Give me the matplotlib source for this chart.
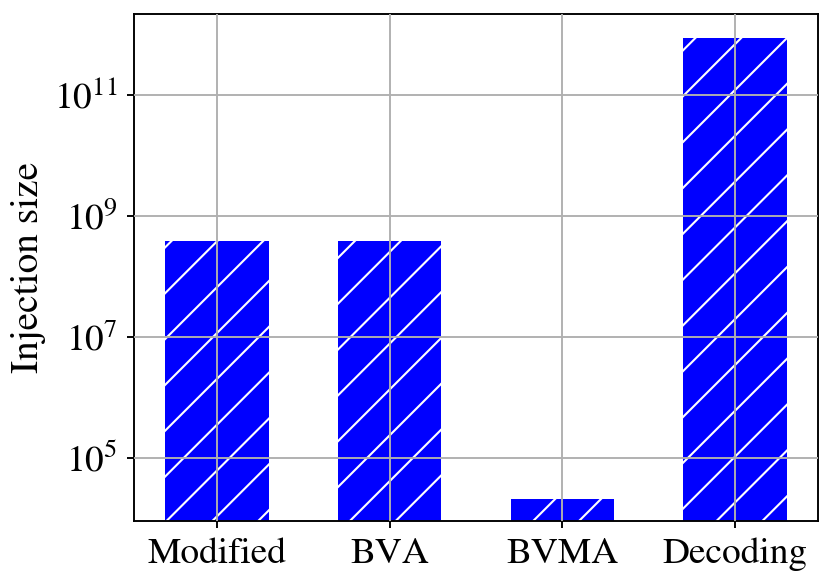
import matplotlib
matplotlib.use("Agg")
import matplotlib.pyplot as plt
import numpy as np

# values (log scale)
methods = ["Modified", "BVA", "BVMA", "Decoding"]
injection_size = [3.9e8, 3.9e8, 2.1e4, 8.7e11]

DPI = 275
plt.rcParams['font.family'] = ['STIXGeneral', 'Liberation Serif', 'DejaVu Serif']
plt.rcParams['mathtext.fontset'] = 'stix'
plt.rcParams['hatch.color'] = 'white'
plt.rcParams['hatch.linewidth'] = 0.55

fig, ax = plt.subplots(figsize=(830 / DPI, 583 / DPI), dpi=DPI)
fig.subplots_adjust(left=134 / 830, right=818 / 830, top=1 - 14 / 583, bottom=1 - 521 / 583)

x = np.arange(len(methods))
ax.bar(x, injection_size, width=0.6, color='#0000ff', hatch='//', edgecolor='white', linewidth=0)
ax.set_yscale('log')
ax.set_ylim(10 ** 3.96, 10 ** 12.34)
ax.set_yticks([1e5, 1e7, 1e9, 1e11])
ax.yaxis.set_minor_locator(matplotlib.ticker.NullLocator())
ax.set_xticks(x)
ax.set_xticklabels(methods)
ax.set_xlim(-0.48, 3.48)

ax.set_ylabel("Injection size", fontsize=10.3)
ax.yaxis.set_label_coords(-0.128, 0.5)
ax.tick_params(labelsize=9.8, length=1.9, width=0.5, pad=2.4)
ax.set_axisbelow(False)
ax.grid(True, color='#b0b0b0', linewidth=0.5)
for s in ax.spines.values():
    s.set_linewidth(0.5)

plt.savefig('out.png', dpi=DPI)
